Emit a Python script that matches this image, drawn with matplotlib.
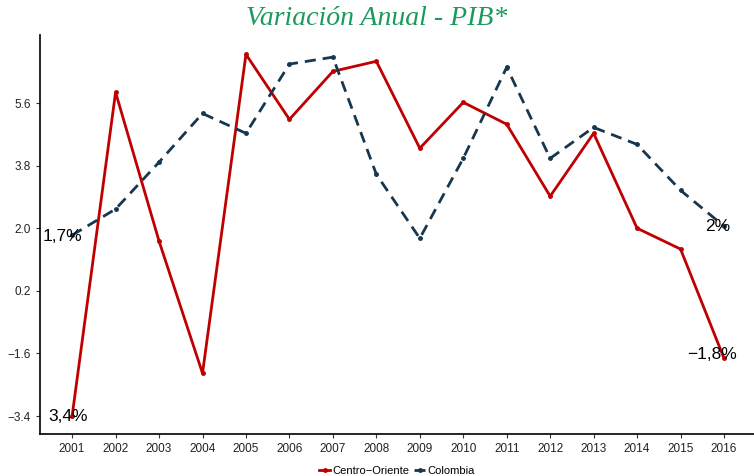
import matplotlib
import matplotlib.pyplot as plt

matplotlib.use('Agg')

plt.rcParams['font.family'] = ['Liberation Sans', 'DejaVu Sans']

years = list(range(2001, 2017))
centro_oriente = [-3.4, 5.91, 1.63, -2.17, 7.0, 5.13, 6.51, 6.8, 4.3, 5.62,
                  4.99, 2.92, 4.73, 2.0, 1.4, -1.74]
colombia = [1.8, 2.55, 3.9, 5.3, 4.73, 6.72, 6.92, 3.55, 1.71, 4.01,
            6.63, 4.01, 4.9, 4.41, 3.09, 2.06]
yticks = [-3.4, -1.6, 0.2, 2.0, 3.8, 5.6]
labels = {"co_first": "3,4%", "co_last": "\u22121,8%", "col_first": "1,7%", "col_last": "2%"}

red = '#c00000'
blue = '#17374f'

fig = plt.figure(figsize=(7.54, 4.76), dpi=100)
ax = fig.add_axes([0.053, 0.088, 0.947, 0.838])

ax.plot(years, centro_oriente, color=red, lw=2, marker='o', ms=2.5, label='Centro\u2212Oriente')
ax.plot(years, colombia, color=blue, lw=2, ls=(0, (4, 2.5)), marker='o', ms=2.5, label='Colombia')

# end labels
ax.text(years[0] - 0.1, centro_oriente[0], labels["co_first"], ha='center', va='center', fontsize=12.5)
ax.text(years[-1] - 0.28, centro_oriente[-1] + 0.1, labels["co_last"], ha='center', va='center', fontsize=12.5)
ax.text(years[0] - 0.22, colombia[0] - 0.05, labels["col_first"], ha='center', va='center', fontsize=12.5)
ax.text(years[-1] - 0.15, colombia[-1], labels["col_last"], ha='center', va='center', fontsize=12.5)

ax.set_xlim(2000.26, 2016.69)
ax.set_ylim(-3.92, 7.55)
ax.set_xticks(years)
ax.set_xticklabels([str(y) for y in years], fontsize=8.5, color='#222222')
ax.set_yticks(yticks)
ax.set_yticklabels([f"{v:.1f}".replace('-', '\u2212') for v in yticks], fontsize=8.5, color='#222222')
ax.tick_params(length=3, width=0.8, color='#333333')

for s in ['top', 'right']:
    ax.spines[s].set_visible(False)
for s in ['left', 'bottom']:
    ax.spines[s].set_linewidth(1.2)

fig.text(0.5, 0.962, 'Variaci\u00f3n Anual - PIB*', ha='center', va='center', fontsize=20,
         color='#1a9a5c', family='Liberation Serif', style='italic')

ax.legend(loc='center', bbox_to_anchor=(0.5, -0.093), ncol=2, frameon=False,
          fontsize=8, handlelength=1.0, handletextpad=0.2, columnspacing=0.4)

plt.savefig('out.png')
